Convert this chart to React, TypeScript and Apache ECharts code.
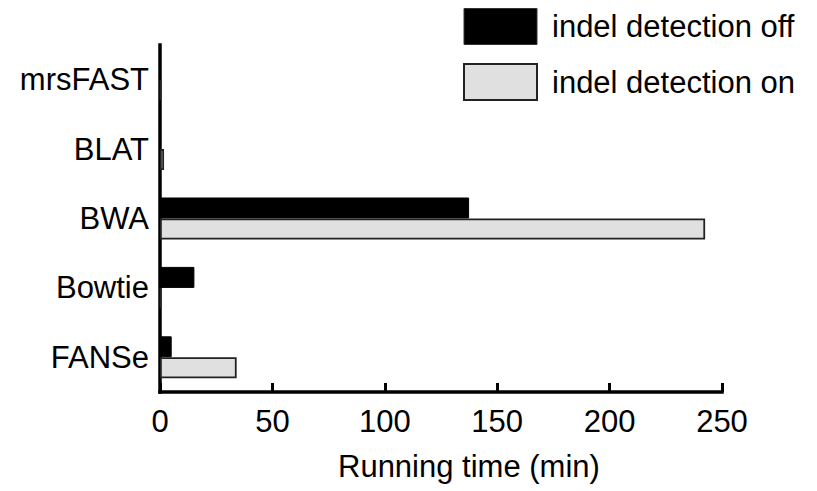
import React, { useEffect, useRef } from "react";
import * as echarts from "echarts";

// Aligners, listed top to bottom
const aligners = ["mrsFAST", "BLAT", "BWA", "Bowtie", "FANSe"];
// Running time in minutes
const indelOff = [0.2, 0.3, 137.5, 15.3, 5.2];
const indelOn = [0.4, 1.8, 242.5, 0.4, 34.1];
const seriesNames = ["indel detection off", "indel detection on"];
const xTicks = [0, 50, 100, 150, 200, 250];

const FONT = "'Liberation Sans', Arial, Helvetica, sans-serif";
const FS = 31;
const OFF_FILL = "#000000";
const ON_FILL = "#e0e0e0";
const ON_BORDER = "#222222";

export default function App() {
  const ref = useRef<HTMLDivElement>(null);

  useEffect(() => {
    if (!ref.current) return;
    const chart = echarts.init(ref.current, undefined, { renderer: "svg" });
    chart.setOption({
      animation: false,
      backgroundColor: "#ffffff",
      textStyle: { fontFamily: FONT },
      legend: {
        orient: "vertical",
        left: 463,
        top: 8,
        itemWidth: 73,
        itemHeight: 36,
        itemGap: 18,
        icon: "rect",
        padding: 0,
        textStyle: {
          fontFamily: FONT,
          fontSize: FS,
          color: "#000",
          padding: [0, 0, 0, 10],
        },
        data: [
          {
            name: seriesNames[0],
            itemStyle: { color: OFF_FILL, borderColor: "#333", borderWidth: 1 },
          },
          {
            name: seriesNames[1],
            itemStyle: { color: ON_FILL, borderColor: ON_BORDER, borderWidth: 2 },
          },
        ],
      },
      grid: { left: 160, right: 95, top: 45, bottom: 99, containLabel: false },
      xAxis: {
        type: "value",
        min: xTicks[0],
        max: xTicks[xTicks.length - 1],
        interval: 50,
        splitLine: { show: false },
        axisLine: {
          show: true,
          lineStyle: { color: "#000", width: 3.5, cap: "square" },
        },
        axisTick: {
          show: true,
          inside: true,
          length: 9,
          lineStyle: { color: "#000", width: 3 },
        },
        axisLabel: {
          fontFamily: FONT,
          fontSize: FS,
          color: "#000",
          margin: 14,
        },
      },
      yAxis: {
        type: "category",
        data: aligners,
        inverse: true,
        axisLine: {
          show: true,
          lineStyle: { color: "#000", width: 3.5, cap: "square" },
        },
        axisTick: { show: false },
        axisLabel: {
          fontFamily: FONT,
          fontSize: FS,
          color: "#000",
          margin: 11,
        },
      },
      series: [
        {
          name: seriesNames[0],
          type: "bar",
          data: indelOff,
          barWidth: 21,
          barGap: "0%",
          itemStyle: { color: OFF_FILL, borderColor: "#000", borderWidth: 1 },
        },
        {
          name: seriesNames[1],
          type: "bar",
          data: indelOn,
          barWidth: 21,
          barGap: "0%",
          itemStyle: { color: ON_FILL, borderColor: ON_BORDER, borderWidth: 1.8 },
        },
      ],
      graphic: [
        {
          type: "text",
          left: 338,
          top: 451,
          style: {
            text: "Running time (min)",
            fontFamily: FONT,
            fontSize: FS,
            fill: "#000",
          },
        },
      ],
    });
    return () => chart.dispose();
  }, []);

  return (
    <div
      ref={ref}
      style={{ position: "fixed", left: 0, top: 0, width: 817, height: 491 }}
    />
  );
}
